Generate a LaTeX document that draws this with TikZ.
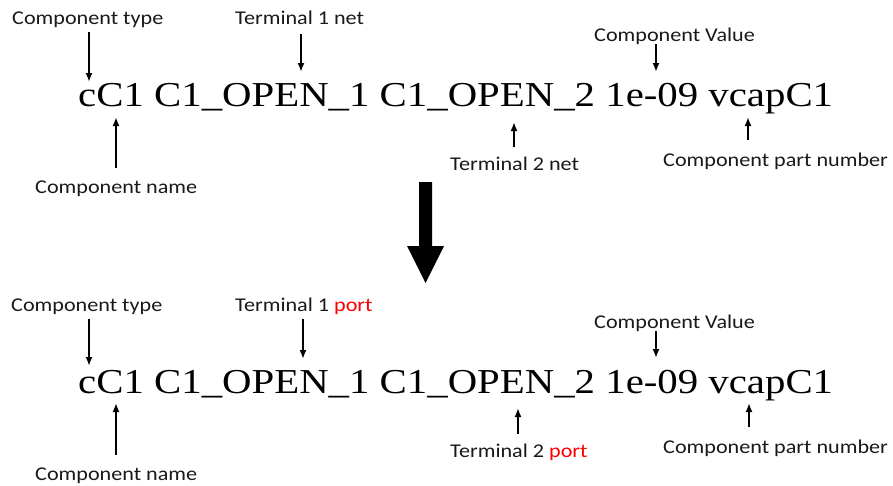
\documentclass[tikz,border=0pt]{standalone}
\usepackage{fontspec}
\usetikzlibrary{arrows.meta}
\newfontfamily\codefont[FakeStretch=1.166]{Liberation Serif}
\newfontfamily\tagfont[FakeStretch=1.136]{Carlito}
\definecolor{tagred}{RGB}{255,0,0}
\definecolor{tagink}{RGB}{25,25,25}

\tikzset{
  netline/.style={font=\codefont\fontsize{35}{42}\selectfont, anchor=base west, inner sep=0pt},
  tag/.style={font=\tagfont\fontsize{19.5}{23}\selectfont, text=tagink, anchor=base west, inner sep=0pt},
  pointer/.style={line width=1.8pt, -{Latex[length=9pt,width=7pt]}},
  bigarrow/.style={fill=black}
}

\begin{document}
\begin{tikzpicture}[x=1pt,y=-1pt]
\useasboundingbox (0,0) rectangle (893,485);

% ---------- original netlist line ----------
\node[netline] (src) at (78,106) {cC1 C1\_OPEN\_1 C1\_OPEN\_2 1e-09 vcapC1};

\node[tag] (srcType) at (12,24)    {Component type};
\node[tag] (srcT1)   at (235,24)   {Terminal 1 net};
\node[tag] (srcVal)  at (594,41)   {Component Value};
\node[tag] (srcName) at (35,193)   {Component name};
\node[tag] (srcT2)   at (450,170)  {Terminal 2 net};
\node[tag] (srcPart) at (663,166.7){Component part number};

\coordinate (srcTypeTip) at (89,82);
\coordinate (srcT1Tip)   at (301,72);
\coordinate (srcValTip)  at (656,72);
\coordinate (srcNameTip) at (116,117);
\coordinate (srcT2Tip)   at (514,122);
\coordinate (srcPartTip) at (748,117);

\draw[pointer, shorten <=5pt]    (srcType.south -| srcTypeTip) -- (srcTypeTip);
\draw[pointer, shorten <=10pt]   (srcT1.south -| srcT1Tip)     -- (srcT1Tip);
\draw[pointer]                   (srcVal.south -| srcValTip)   -- (srcValTip);
\draw[pointer, shorten <=12pt]   (srcName.north -| srcNameTip) -- (srcNameTip);
\draw[pointer, shorten <=9.5pt]  (srcT2.north -| srcT2Tip)     -- (srcT2Tip);
\draw[pointer, shorten <=13pt]   (srcPart.north -| srcPartTip) -- (srcPartTip);

% ---------- transformation arrow ----------
\fill[bigarrow] (419,182) -- (432,182) -- (432,246) -- (444,246) -- (425.5,283)
                -- (407,246) -- (419,246) -- cycle;

% ---------- port netlist line ----------
\node[netline] (dst) at (78,393) {cC1 C1\_OPEN\_1 C1\_OPEN\_2 1e-09 vcapC1};

\node[tag] (dstType) at (11,311)  {Component type};
\node[tag] (dstT1)   at (235,311) {Terminal 1 \textcolor{tagred}{port}};
\node[tag] (dstVal)  at (594,328) {Component Value};
\node[tag] (dstName) at (35,480)  {Component name};
\node[tag] (dstT2)   at (450,457) {Terminal 2 \textcolor{tagred}{port}};
\node[tag] (dstPart) at (663,453) {Component part number};

\coordinate (dstTypeTip) at (89,366);
\coordinate (dstT1Tip)   at (303,359);
\coordinate (dstValTip)  at (656,358);
\coordinate (dstNameTip) at (116,403);
\coordinate (dstT2Tip)   at (518,408);
\coordinate (dstPartTip) at (749,403);

\draw[pointer, shorten <=5pt]    (dstType.south -| dstTypeTip) -- (dstTypeTip);
\draw[pointer, shorten <=5pt]    (dstT1.south -| dstT1Tip)     -- (dstT1Tip);
\draw[pointer]                   (dstVal.south -| dstValTip)   -- (dstValTip);
\draw[pointer, shorten <=12pt]   (dstName.north -| dstNameTip) -- (dstNameTip);
\draw[pointer, shorten <=9.5pt]  (dstT2.north -| dstT2Tip)     -- (dstT2Tip);
\draw[pointer, shorten <=12.5pt] (dstPart.north -| dstPartTip) -- (dstPartTip);
\end{tikzpicture}
\end{document}
